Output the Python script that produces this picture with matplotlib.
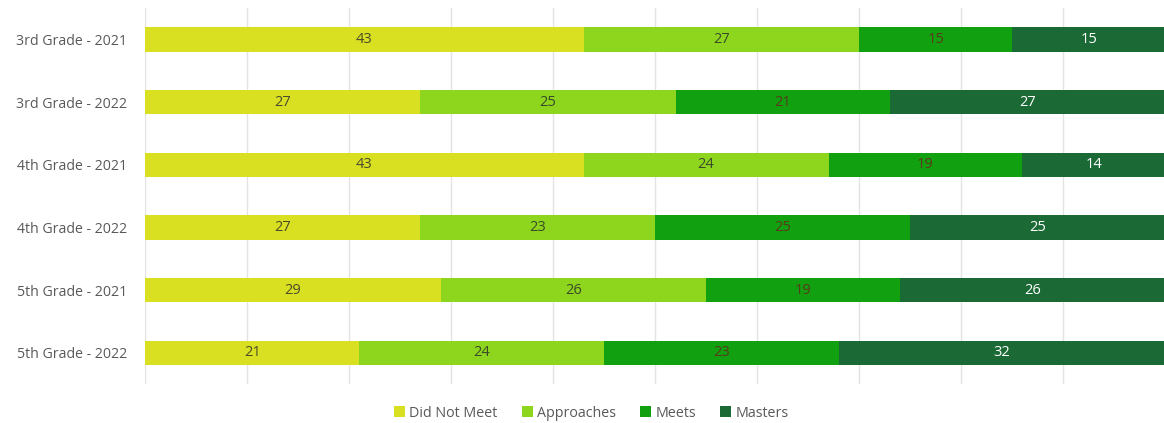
import matplotlib.pyplot as plt
import numpy as np

plt.rcParams['font.family'] = ['Open Sans', 'DejaVu Sans']

groups = ['3rd Grade - 2021', '3rd Grade - 2022', '4th Grade - 2021',
          '4th Grade - 2022', '5th Grade - 2021', '5th Grade - 2022']
series = ['Did Not Meet', 'Approaches', 'Meets', 'Masters']
did_not_meet = [43, 27, 43, 27, 29, 21]
approaches = [27, 25, 24, 23, 26, 24]
meets = [15, 21, 19, 25, 19, 23]
masters = [15, 27, 14, 25, 26, 32]

colors = ['#d8e021', '#8ed61e', '#10a010', '#1b6a36']
text_colors = ['#4a4a2a', '#3a4a2a', '#5a3a1a', '#ffffff']

fig = plt.figure(figsize=(11.64, 4.23), dpi=100)
ax = fig.add_axes([0.1246, 0.092, 0.8764, 0.889])

y = np.arange(len(groups))
left = np.zeros(len(groups))
for name, vals, c, tc in zip(series, [did_not_meet, approaches, meets, masters], colors, text_colors):
    bars = ax.barh(y, vals, left=left, height=0.39, color=c, label=name, zorder=3)
    ax.bar_label(bars, labels=[str(v) for v in vals], label_type='center',
                 color=tc, fontsize=10.5)
    left += np.array(vals)

ax.set_xlim(0, 100)
ax.set_ylim(len(groups) - 0.5, -0.5)
ax.set_yticks(y)
ax.set_yticklabels(groups, fontsize=10.2, color='#595959')
ax.set_xticks(np.arange(0, 101, 10))
ax.tick_params(axis='x', length=0, labelbottom=False)
ax.tick_params(axis='y', length=0, pad=13)
ax.grid(axis='x', color='#e3e3e3', linewidth=1, zorder=0)
for s in ax.spines.values():
    s.set_visible(False)

fig.legend(loc='lower center', bbox_to_anchor=(0.508, -0.025), ncol=4, frameon=False,
           fontsize=10.3, handlelength=0.75, handleheight=0.75, handletextpad=0.3,
           columnspacing=1.7, labelcolor='#595959')

fig.savefig('out.png', dpi=100)
